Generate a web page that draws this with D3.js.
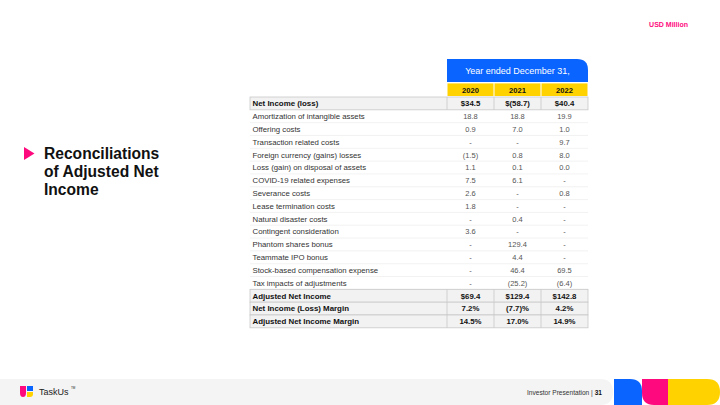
<!DOCTYPE html>
<html><head><meta charset="utf-8">
<script src="https://cdn.jsdelivr.net/npm/d3@7"></script>
<style>html,body{margin:0;padding:0;background:#fff;}svg{display:block;font-family:"Liberation Sans",Arial,Helvetica,sans-serif;}</style>
</head><body>
<svg id="c" width="720" height="405"></svg>
<script>
const years = ["2020","2021","2022"];
const labels = ["Net Income (loss)","Amortization of intangible assets","Offering costs","Transaction related costs","Foreign currency (gains) losses","Loss (gain) on disposal of assets","COVID-19 related expenses","Severance costs","Lease termination costs","Natural disaster costs","Contingent consideration","Phantom shares bonus","Teammate IPO bonus","Stock-based compensation expense","Tax impacts of adjustments","Adjusted Net Income","Net Income (Loss) Margin","Adjusted Net Income Margin"];
const v2020 = ["$34.5","18.8","0.9","-","(1.5)","1.1","7.5","2.6","1.8","-","3.6","-","-","-","-","$69.4","7.2%","14.5%"];
const v2021 = ["$(58.7)","18.8","7.0","-","0.8","0.1","6.1","-","-","0.4","-","129.4","4.4","46.4","(25.2)","$129.4","(7.7)%","17.0%"];
const v2022 = ["$40.4","19.9","1.0","9.7","8.0","0.0","-","0.8","-","-","-","-","-","69.5","(6.4)","$142.8","4.2%","14.9%"];
const boldRows = [0,15,16,17];
const headerTitle = "Year ended December 31,";
const sectionTitle = ["Reconciliations","of Adjusted Net","Income"];

const BLUE="#0a64ff", YELLOW="#ffd200", PINK="#ff0a7e";
const svg = d3.select("#c");
const values = [v2020,v2021,v2022];

const y = d3.scaleBand().domain(d3.range(labels.length)).range([97,327.8]);
const x = d3.scaleBand().domain(years).range([447,588]);
const tableLeft = 250, tableRight = 588;

// USD Million
svg.append("text").attr("x",688).attr("y",27).attr("text-anchor","end")
  .attr("font-size",7).attr("font-weight","bold").attr("fill",PINK).text("USD Million");

// Title
svg.append("path").attr("d","M24,147 L34.5,153.5 L24,160 Z").attr("fill",PINK);
svg.append("g").selectAll("text").data(sectionTitle).join("text")
  .attr("x",44).attr("y",(d,i)=>159+i*18.2).attr("font-size",15.6).attr("font-weight","bold")
  .attr("fill","#111").text(d=>d);

// Blue header with rounded top-right
const hx0 = x.range()[0], hx1 = x.range()[1], hy0=59, hy1=82, r=11;
svg.append("path").attr("d",`M${hx0},${hy0} L${hx1-r},${hy0} Q${hx1},${hy0} ${hx1},${hy0+r} L${hx1},${hy1} L${hx0},${hy1} Z`).attr("fill",BLUE);
svg.append("text").attr("x",(hx0+hx1)/2).attr("y",74).attr("text-anchor","middle")
  .attr("font-size",9).attr("fill","#fff").text(headerTitle);

// Yellow year row
const yr = svg.append("g");
yr.selectAll("rect").data(years).join("rect")
  .attr("x",d=>x(d)+0.5).attr("y",83.4).attr("width",x.bandwidth()-1).attr("height",12.6).attr("fill",YELLOW);
yr.selectAll("text").data(years).join("text")
  .attr("x",d=>x(d)+x.bandwidth()/2).attr("y",92.6).attr("text-anchor","middle")
  .attr("font-size",7.6).attr("font-weight","bold").attr("fill","#111").text(d=>d);

// Rows
const rows = svg.append("g").selectAll("g").data(labels).join("g");
rows.each(function(lab,i){
  const g = d3.select(this);
  const bold = boldRows.includes(i);
  const top = y(i), h = y.bandwidth();
  if(bold){
    g.append("rect").attr("x",tableLeft).attr("y",top).attr("width",tableRight-tableLeft).attr("height",h)
      .attr("fill","#f2f2f2").attr("stroke","#c8c8c8").attr("stroke-width",0.8);
    years.forEach(yy=>{
      g.append("line").attr("x1",x(yy)).attr("x2",x(yy)).attr("y1",top).attr("y2",top+h)
        .attr("stroke","#c8c8c8").attr("stroke-width",0.8);
    });
  } else {
    g.append("line").attr("x1",tableLeft).attr("x2",tableRight).attr("y1",top+h).attr("y2",top+h)
      .attr("stroke","#ececec").attr("stroke-width",0.7);
  }
  g.append("text").attr("x",tableLeft+2.5).attr("y",top+h/2+2.8)
    .attr("font-size",bold?7.9:7.8).attr("font-weight",bold?"bold":"normal")
    .attr("fill",bold?"#111":"#333").text(lab);
  years.forEach((yy,j)=>{
    g.append("text").attr("x",x(yy)+x.bandwidth()/2).attr("y",top+h/2+2.8).attr("text-anchor","middle")
      .attr("font-size",bold?7.8:7.5).attr("font-weight",bold?"bold":"normal")
      .attr("fill",bold?"#111":"#555").text(values[j][i]);
  });
});

// Footer
svg.append("path").attr("d","M0,379 L600,379 Q613,379 613,392 Q613,405 600,405 L0,405 Z").attr("fill","#f4f4f4");
// logo
svg.append("path").attr("d","M20,386 L26,386 L26,393 Q26,397 23,397 Q20,397 20,393 Z").attr("fill",PINK);
svg.append("path").attr("d","M27,386 L33,386 L33,391 L27,391 Z").attr("fill",BLUE);
svg.append("path").attr("d","M27,392 L33,392 L33,394 Q33,397 30,397 L27,397 Z").attr("fill",YELLOW);
svg.append("text").attr("x",39).attr("y",395).attr("font-size",9).attr("fill","#222").text("TaskUs");
svg.append("text").attr("x",71).attr("y",389).attr("font-size",3).attr("fill","#222").text("TM");
// page label
const ft = svg.append("text").attr("x",602).attr("y",394.5).attr("text-anchor","end").attr("font-size",6.6).attr("fill","#333");
ft.append("tspan").text("Investor Presentation | ");
ft.append("tspan").attr("font-weight","bold").attr("fill","#111").text("31");
// shapes
svg.append("path").attr("d","M614,379 L630,379 Q642,379 642,391 L642,405 L614,405 Z").attr("fill",BLUE);
svg.append("path").attr("d","M642,379 L668,379 L668,405 L654,405 Q642,405 642,393 Z").attr("fill",PINK);
svg.append("path").attr("d","M668,379 L707,379 Q720,379 720,392 Q720,405 707,405 L668,405 Z").attr("fill",YELLOW);
</script>
</body></html>
